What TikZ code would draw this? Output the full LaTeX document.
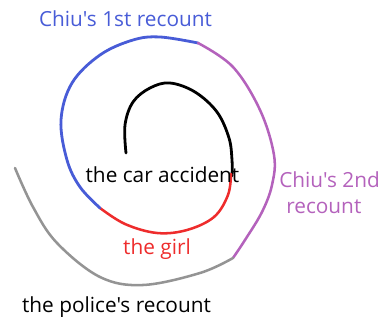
\documentclass[tikz,border=0pt]{standalone}
\usepackage{fontspec}
\setmainfont{Open Sans}[Ligatures=TeXOff]
\definecolor{cblue}{RGB}{72,92,215}
\definecolor{cpurple}{RGB}{180,98,188}
\definecolor{cred}{RGB}{238,44,44}
\definecolor{cgray}{RGB}{148,148,148}
\tikzset{
  lbl/.style={font=\fontsize{15.6}{18}\selectfont, inner sep=0pt, anchor=base},
  arc/.style={line width=1.9pt, line cap=round, line join=round}
}
\begin{document}
\begin{tikzpicture}[x=0.75pt,y=-0.75pt]
\useasboundingbox (0,0) rectangle (380,321);
% black
\draw[arc, black, line width=2.1pt] plot[smooth, tension=0.6] coordinates {(126,153) (125,125) (133,102) (150,88) (170,83) (195,92) (217,112) (229,138) (232,160) (232,176)};
% red
\draw[arc, cred] plot[smooth, tension=0.6] coordinates {(231,174) (228,195) (214,217) (187,230) (157,233) (125,224) (100,208)};
% blue
\draw[arc, cblue, line width=2.1pt] plot[smooth, tension=0.6] coordinates {(100,208) (80,187) (67,160) (61,120) (72,83) (100,55) (133,40) (160,37) (198,43)};
% purple
\draw[arc, cpurple] plot[smooth, tension=0.6] coordinates {(198,43) (233,67) (260,110) (274,155) (272,185) (262,212) (245,240) (233,258)};
% gray
\draw[arc, cgray] plot[smooth, tension=0.6] coordinates {(233,258) (200,273) (143,285) (100,277) (57,243) (33,207) (15,168)};
\node[lbl, text=cblue] (first) at (125.5,27) {Chiu's 1st recount};
\node[lbl] (car) at (162.5,183) {the car accident};
\node[lbl, text=cpurple, anchor=base west] (second) at (279,188) {Chiu's 2nd};
\node[lbl, text=cpurple, anchor=base west] (secondb) at (286,214) {recount};
\node[lbl, text=cred] (girl) at (157,255) {the girl};
\node[lbl] (police) at (116.5,313) {the police's recount};
\end{tikzpicture}
\end{document}
